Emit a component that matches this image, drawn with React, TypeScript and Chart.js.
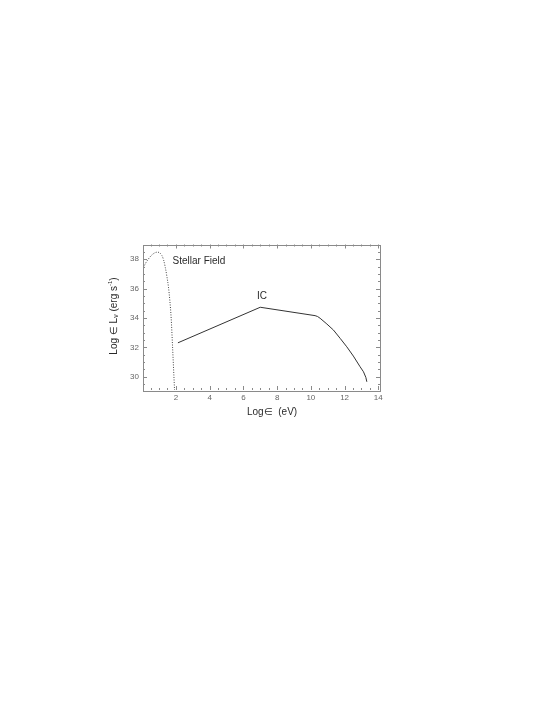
import React, { useEffect, useRef } from "react";
import { Chart, registerables } from "chart.js";
Chart.register(...registerables);

// Stellar (blackbody) field, dotted
const stellarX = [0.07, 0.2, 0.35, 0.5, 0.65, 0.8, 0.92, 1.05, 1.17, 1.27, 1.37, 1.47, 1.56, 1.64, 1.72, 1.8, 1.88, 1.92];
const stellarY = [37.42, 37.72, 37.98, 38.2, 38.36, 38.46, 38.48, 38.42, 38.25, 37.95, 37.45, 36.8, 36.1, 35.2, 34.0, 32.1, 30.1, 29.1];

// Inverse Compton spectrum, solid
const icX = [2.12, 7.0, 10.25, 10.4, 10.55, 10.95, 11.34, 11.74, 12.13, 12.52, 12.92, 13.12, 13.26, 13.32];
const icY = [32.31, 34.73, 34.16, 34.1, 33.98, 33.59, 33.18, 32.61, 32.04, 31.41, 30.68, 30.34, 29.96, 29.66];

const xTicks = [2, 4, 6, 8, 10, 12, 14];
const yTicks = [30, 32, 34, 36, 38];
const xRange = [0.05, 14.1];
const yRange = [29.1, 39.0];

const stellarLabel = { text: "Stellar Field", x: 1.8, y: 37.88 };
const icLabel = { text: "IC", x: 7.1, y: 35.46 };

const FONT = "'Liberation Sans', Arial, sans-serif";

const framePlugin = {
  id: "framePlugin",
  afterDatasetsDraw(chart: any) {
    const { ctx, chartArea: a, scales } = chart;
    const xs = scales.x;
    const ys = scales.y;
    ctx.save();
    ctx.strokeStyle = "#8a8a8a";
    ctx.lineWidth = 1;
    ctx.strokeRect(Math.round(a.left) + 0.5, Math.round(a.top) + 0.5, Math.round(a.right - a.left), Math.round(a.bottom - a.top));
    ctx.beginPath();
    for (let v = 0.5; v <= xRange[1] + 1e-9; v += 0.5) {
      if (v < xRange[0]) continue;
      const px = Math.round(xs.getPixelForValue(v)) + 0.5;
      const len = Math.abs(v % 2) < 1e-9 ? 4 : 2;
      ctx.moveTo(px, a.bottom);
      ctx.lineTo(px, a.bottom - len);
      ctx.moveTo(px, a.top);
      ctx.lineTo(px, a.top + len);
    }
    for (let v = 29.5; v <= yRange[1] + 1e-9; v += 0.5) {
      const py = Math.round(ys.getPixelForValue(v)) + 0.5;
      const len = Math.abs(v % 2) < 1e-9 ? 4 : 2;
      ctx.moveTo(a.left, py);
      ctx.lineTo(a.left + len, py);
      ctx.moveTo(a.right, py);
      ctx.lineTo(a.right - len, py);
    }
    ctx.stroke();

    ctx.fillStyle = "#2a2a2a";
    ctx.font = `10px ${FONT}`;
    ctx.textBaseline = "middle";
    ctx.textAlign = "left";
    ctx.fillText(stellarLabel.text, xs.getPixelForValue(stellarLabel.x), ys.getPixelForValue(stellarLabel.y));
    ctx.textAlign = "center";
    ctx.fillText(icLabel.text, xs.getPixelForValue(icLabel.x), ys.getPixelForValue(icLabel.y));

    ctx.textAlign = "left";
    ctx.textBaseline = "middle";
    ctx.font = `10px ${FONT}`;
    ctx.fillText("Log\u2208  (eV)", 247, 412.5);

    ctx.save();
    ctx.translate(114, 316);
    ctx.rotate(-Math.PI / 2);
    const parts: [string, number, number][] = [
      ["Log \u2208 L", 10, 0],
      ["\u03BD", 7, 2.5],
      [" (erg s", 10, 0],
      ["-1", 6, -3.5],
      [")", 10, 0],
    ];
    let total = 0;
    for (const [t, s] of parts) {
      ctx.font = `${s}px ${FONT}`;
      total += ctx.measureText(t).width;
    }
    let cx = -total / 2;
    ctx.textAlign = "left";
    for (const [t, s, dy] of parts) {
      ctx.font = `${s}px ${FONT}`;
      ctx.fillText(t, cx, dy);
      cx += ctx.measureText(t).width;
    }
    ctx.restore();
    ctx.restore();
  },
};

export default function App() {
  const ref = useRef<HTMLCanvasElement>(null);
  useEffect(() => {
    if (!ref.current) return;
    const chart = new Chart(ref.current, {
      type: "scatter",
      data: {
        datasets: [
          {
            label: "Stellar Field",
            data: stellarX.map((x, i) => ({ x, y: stellarY[i] })),
            showLine: true,
            borderColor: "#444",
            borderWidth: 1,
            borderDash: [1, 1.5],
            pointRadius: 0,
            cubicInterpolationMode: "monotone",
          },
          {
            label: "IC",
            data: icX.map((x, i) => ({ x, y: icY[i] })),
            showLine: true,
            borderColor: "#333",
            borderWidth: 1,
            pointRadius: 0,
            tension: 0,
          },
        ],
      },
      options: {
        animation: false,
        responsive: false,
        layout: { padding: { left: 100, top: 244.5, right: 165, bottom: 280 } },
        plugins: { legend: { display: false }, tooltip: { enabled: false } },
        scales: {
          x: {
            type: "linear",
            min: xRange[0],
            max: xRange[1],
            grid: { display: false, drawTicks: false },
            border: { display: false },
            afterBuildTicks: (s: any) => {
              s.ticks = xTicks.map((v) => ({ value: v }));
            },
            afterFit: (s: any) => {
              s.height = 35;
            },
            ticks: { font: { size: 8, family: FONT }, color: "#666", padding: 3, maxRotation: 0 },
          },
          y: {
            type: "linear",
            min: yRange[0],
            max: yRange[1],
            grid: { display: false, drawTicks: false },
            border: { display: false },
            afterBuildTicks: (s: any) => {
              s.ticks = yTicks.map((v) => ({ value: v }));
            },
            afterFit: (s: any) => {
              s.width = 43;
            },
            ticks: { font: { size: 8, family: FONT }, color: "#666", padding: 4 },
          },
        },
      },
      plugins: [framePlugin],
    } as any);
    return () => chart.destroy();
  }, []);
  return (
    <div style={{ position: "absolute", left: 0, top: 0, width: 545, height: 705, background: "#fff" }}>
      <canvas ref={ref} width={545} height={705} />
    </div>
  );
}
